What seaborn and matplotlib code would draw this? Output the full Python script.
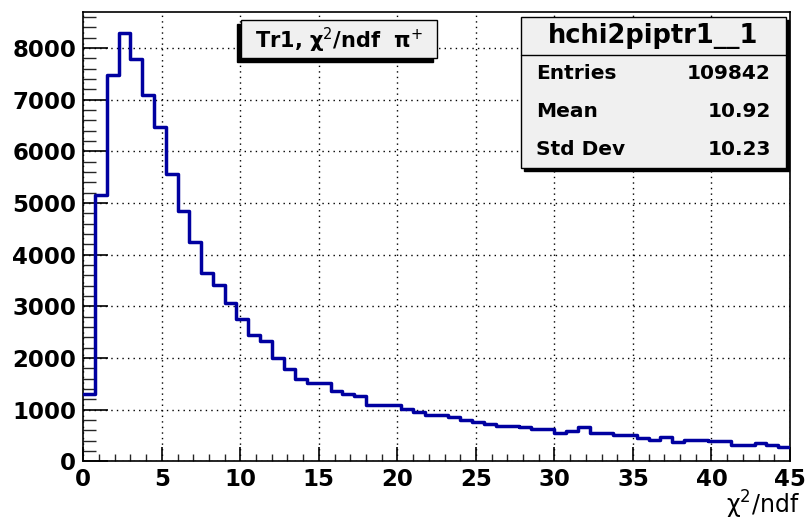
import numpy as np
import pandas as pd
import matplotlib
matplotlib.use("Agg")
import matplotlib.pyplot as plt
from matplotlib.patches import Rectangle
import matplotlib.ticker as mticker
import seaborn as sns

# ---- data ----
bin_width = 0.75
x_range = (0, 45)
counts = [1300, 5150, 7480, 8290, 7780, 7085, 6470, 5550, 4840, 4236,
          3648, 3410, 3056, 2750, 2450, 2320, 2000, 1779, 1588, 1520,
          1520, 1360, 1305, 1265, 1089, 1089, 1080, 1010, 960, 896,
          890, 848, 808, 763, 718, 689, 689, 657, 619, 619,
          541, 580, 655, 541, 545, 503, 503, 460, 418, 466,
          380, 420, 420, 390, 385, 309, 309, 348, 309, 268]
x_ticks = [0, 5, 10, 15, 20, 25, 30, 35, 40, 45]
y_ticks = [0, 1000, 2000, 3000, 4000, 5000, 6000, 7000, 8000]
title_text = "Tr1, \u03c7$^{2}$/ndf  \u03c0$^{+}$"
stats_name = "hchi2piptr1__1"
stats_labels = ["Entries", "Mean", "Std Dev"]
stats_values = ["109842", "10.92", "10.23"]
x_title = "\u03c7$^{2}$/ndf"

sns.set_theme(style="white")
plt.rcParams["font.family"] = ["DejaVu Sans"]
plt.rcParams["mathtext.fontset"] = "dejavusans"

W, H = 808, 524
fig = plt.figure(figsize=(W / 100, H / 100), dpi=100)
fig.patch.set_facecolor("white")

def fx(px):
    return px / W

def fy(py):
    return 1 - py / H

ax_l, ax_r, ax_t, ax_b = 83.3, 790.0, 11.7, 461.3
ax = fig.add_axes([fx(ax_l), fy(ax_b), fx(ax_r - ax_l), (ax_b - ax_t) / H])
ax.set_facecolor("white")

centers = x_range[0] + bin_width * (np.arange(len(counts)) + 0.5)
df = pd.DataFrame({"chi2": centers, "n": counts})
sns.histplot(data=df, x="chi2", weights="n", binwidth=bin_width,
             binrange=x_range, element="step",
             fill=False, color="#0000a0", linewidth=2.5, ax=ax, zorder=3)

ax.set_xlim(0, 45)
ax.set_ylim(0, 8700)
ax.set_xticks(x_ticks)
ax.set_yticks(y_ticks)
ax.xaxis.set_minor_locator(mticker.MultipleLocator(1))
ax.yaxis.set_minor_locator(mticker.MultipleLocator(200))
ax.set_xlabel("")
ax.set_ylabel("")

for s in ax.spines.values():
    s.set_color("black")
    s.set_linewidth(1.2)
    s.set_visible(True)

ax.tick_params(axis="x", which="major", direction="in", length=10, width=1.2,
               bottom=True, top=False, pad=5, labelsize=16.5, colors="black")
ax.tick_params(axis="x", which="minor", direction="in", length=5, width=1.0,
               bottom=True, top=False)
ax.tick_params(axis="y", which="major", direction="in", length=18, width=1.2,
               left=True, right=False, pad=5, labelsize=16.5, colors="black")
ax.tick_params(axis="y", which="minor", direction="in", length=9, width=1.0,
               left=True, right=False)
for lab in ax.get_xticklabels() + ax.get_yticklabels():
    lab.set_fontweight("bold")

ax.grid(True, which="major", color="black", linestyle=(0, (1.0, 3.0)),
        linewidth=1.0, zorder=1)
ax.set_axisbelow(True)

# x-axis title
fig.text(fx(800), fy(514), x_title, ha="right", va="baseline",
         fontsize=17, color="black")

# title box with shadow (left / bottom)
tb = (241, 20, 437, 58)
fig.patches.append(Rectangle((fx(tb[0] - 4), fy(tb[3] + 4)), fx(tb[2] - tb[0]),
                             (tb[3] - tb[1]) / H, transform=fig.transFigure,
                             facecolor="black", edgecolor="black", zorder=5))
fig.patches.append(Rectangle((fx(tb[0]), fy(tb[3])), fx(tb[2] - tb[0]),
                             (tb[3] - tb[1]) / H, transform=fig.transFigure,
                             facecolor="#f0f0f0", edgecolor="black",
                             linewidth=1.0, zorder=6))
fig.text(fx((tb[0] + tb[2]) / 2), fy((tb[1] + tb[3]) / 2 + 1), title_text,
         ha="center", va="center", fontsize=15, fontweight="bold",
         color="black", zorder=7)

# stats box with shadow (right / bottom)
sb = (521, 17, 786, 168)
fig.patches.append(Rectangle((fx(sb[0] + 3), fy(sb[3] + 3)), fx(sb[2] - sb[0]),
                             (sb[3] - sb[1]) / H, transform=fig.transFigure,
                             facecolor="black", edgecolor="black", zorder=5))
fig.patches.append(Rectangle((fx(sb[0]), fy(sb[3])), fx(sb[2] - sb[0]),
                             (sb[3] - sb[1]) / H, transform=fig.transFigure,
                             facecolor="#f0f0f0", edgecolor="black",
                             linewidth=1.0, zorder=6))
row_h = (sb[3] - sb[1]) / 4
sep_y = sb[1] + row_h
fig.lines.append(plt.Line2D([fx(sb[0]), fx(sb[2])], [fy(sep_y), fy(sep_y)],
                            transform=fig.transFigure, color="black",
                            linewidth=1.0, zorder=7))
fig.text(fx((sb[0] + sb[2]) / 2), fy(sb[1] + row_h / 2), stats_name,
         ha="center", va="center", fontsize=18.5, fontweight="bold",
         color="black", zorder=8)
for i, (lab, val) in enumerate(zip(stats_labels, stats_values)):
    yc = sb[1] + row_h * (i + 1.5)
    fig.text(fx(sb[0] + 15), fy(yc), lab, ha="left", va="center",
             fontsize=14.5, fontweight="bold", color="black", zorder=8)
    fig.text(fx(sb[2] - 15), fy(yc), val, ha="right", va="center",
             fontsize=14.5, fontweight="bold", color="black", zorder=8)

fig.savefig("out.png", dpi=100, facecolor="white")
